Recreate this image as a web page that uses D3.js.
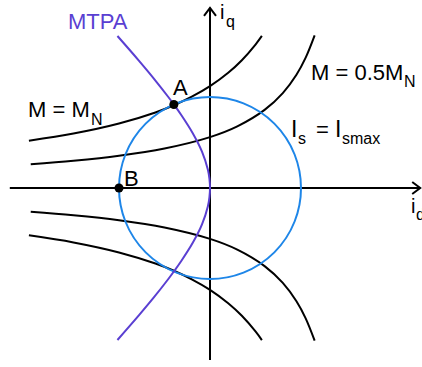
<!DOCTYPE html>
<html>
<head>
<meta charset="utf-8">
<script src="https://cdn.jsdelivr.net/npm/d3@7"></script>
<style>
  body { margin: 0; background: #fff; }
  text { font-family: "Liberation Sans", Arial, sans-serif; }
</style>
</head>
<body>
<div id="chart"></div>
<script>
// current plane in units of Ismax (circle radius = 1)
let idRange = [-2.2, 2.31]
let iqRange = [-1.89, 1.98]

// torque curve M = MN, upper branch [id, iq]
let torqueFull = [[-1.99,0.52],[-1.5,0.598],[-1.0,0.708],[-0.6,0.83],[-0.397,0.909],[-0.2,1.003],
    [0,1.119],[0.2,1.266],[0.35,1.404],[0.5,1.576],[0.57,1.671]]
// torque curve M = 0.5MN, upper branch
let torqueHalf = [[-1.97,0.261],[-1.5,0.299],[-1.0,0.354],[-0.5,0.434],[0,0.559],[0.3,0.677],
    [0.6,0.858],[0.8,1.043],[0.95,1.245],[1.05,1.43],[1.15,1.678]]
// MTPA trajectory
let mtpa = [[-1.017,1.67],[-0.782,1.4],[-0.615,1.2],[-0.458,1.0],[-0.397,0.918],[-0.314,0.8],
    [-0.188,0.6],[-0.088,0.4],[-0.023,0.2],[-0.006,0.1],[0,0],[-0.006,-0.1],[-0.023,-0.2],
    [-0.088,-0.4],[-0.188,-0.6],[-0.314,-0.8],[-0.397,-0.918],[-0.458,-1.0],[-0.615,-1.2],
    [-0.782,-1.4],[-1.017,-1.67]]
let pointA = [-0.397, 0.918]
let pointB = [-1, 0]

let svgWidth = 422, svgHeight = 367
let blue = "#1e86e8", purple = "#5a3fd2"

let svg = d3.select('#chart')
    .append('svg')
    .attr('width', svgWidth)
    .attr('height', svgHeight)

let xScale = d3.scaleLinear().domain([-1, 1]).range([119, 301])
let yScale = d3.scaleLinear().domain([-1, 1]).range([279, 97])

let line = d3.line()
    .x(d => xScale(d[0]))
    .y(d => yScale(d[1]))
    .curve(d3.curveCatmullRom)

let mirror = arr => arr.map(d => [d[0], -d[1]])

// axes
svg.append('line')
    .attr('x1', xScale(idRange[0])).attr('x2', xScale(idRange[1]))
    .attr('y1', yScale(0)).attr('y2', yScale(0))
    .attr('stroke', '#000').attr('stroke-width', 2)
svg.append('line')
    .attr('x1', xScale(0)).attr('x2', xScale(0))
    .attr('y1', yScale(iqRange[0])).attr('y2', yScale(iqRange[1]))
    .attr('stroke', '#000').attr('stroke-width', 2)

let ax = xScale(idRange[1]), ay = yScale(0)
svg.append('path')
    .attr('d', `M${ax-8},${ay-6}L${ax},${ay}L${ax-8},${ay+6}`)
    .attr('fill', 'none').attr('stroke', '#000').attr('stroke-width', 2)
let tx = xScale(0), ty = yScale(iqRange[1])
svg.append('path')
    .attr('d', `M${tx-6},${ty+8}L${tx},${ty}L${tx+6},${ty+8}`)
    .attr('fill', 'none').attr('stroke', '#000').attr('stroke-width', 2)

// torque hyperbolas
let curves = [torqueFull, torqueHalf, mirror(torqueFull), mirror(torqueHalf)]
svg.selectAll('.torque')
    .data(curves)
    .join('path')
    .attr('class', 'torque')
    .attr('fill', 'none')
    .attr('stroke', '#000')
    .attr('stroke-width', 2)
    .attr('d', d => line(d))

// current limit circle
svg.append('circle')
    .attr('cx', xScale(0))
    .attr('cy', yScale(0))
    .attr('r', xScale(1) - xScale(0))
    .attr('fill', 'none')
    .attr('stroke', blue)
    .attr('stroke-width', 2)

// MTPA
svg.append('path')
    .attr('d', line(mtpa))
    .attr('fill', 'none')
    .attr('stroke', purple)
    .attr('stroke-width', 2)

svg.selectAll('.pt')
    .data([pointA, pointB])
    .join('circle')
    .attr('class', 'pt')
    .attr('cx', d => xScale(d[0]))
    .attr('cy', d => yScale(d[1]))
    .attr('r', 4.5)
    .attr('fill', '#000')

// labels: pieces of [text, x, y, size]
function label(pieces, color) {
    pieces.forEach(p => {
        svg.append('text')
            .attr('x', p[1]).attr('y', p[2])
            .attr('font-size', p[3])
            .attr('fill', color || '#000')
            .text(p[0])
    })
}

label([['MTPA', 68, 29, 22]], purple)
label([['A', 173, 95, 22]])
label([['B', 124, 186, 22]])
label([['M = M', 28, 117, 22], ['N', 91, 125, 16]])
label([['M = 0.5M', 311, 80, 22], ['N', 404, 87, 16]])
label([['I', 291, 137, 23], ['s', 298, 144, 16], ['=', 316, 137, 22], ['I', 335, 137, 23], ['smax', 342, 144, 16]])
label([['i', 220, 19, 20], ['q', 226, 27, 16]])
label([['i', 411, 213, 20], ['d', 416, 220, 16]])
</script>
</body>
</html>
